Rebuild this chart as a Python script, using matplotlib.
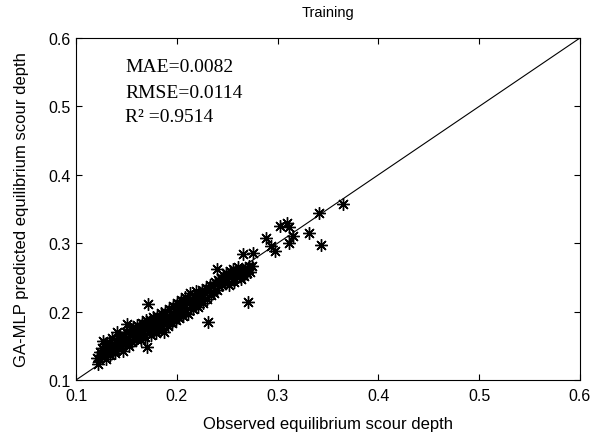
import matplotlib
matplotlib.use("Agg")
import matplotlib.pyplot as plt

observed = [
    0.121, 0.122, 0.124, 0.125, 0.126, 0.127, 0.128, 0.129, 0.130, 0.131,
    0.132, 0.133, 0.134, 0.135, 0.136, 0.137, 0.138, 0.139, 0.140, 0.141,
    0.142, 0.143, 0.144, 0.145, 0.146, 0.147, 0.148, 0.149, 0.150, 0.151,
    0.152, 0.153, 0.154, 0.155, 0.156, 0.157, 0.158, 0.159, 0.160,
    0.161, 0.162, 0.163, 0.164, 0.165, 0.166, 0.167, 0.168, 0.169, 0.170,
    0.171, 0.171, 0.172, 0.173, 0.174, 0.175, 0.176, 0.177, 0.178, 0.179,
    0.180, 0.181, 0.182, 0.183, 0.184, 0.185, 0.186, 0.187, 0.188, 0.189,
    0.190, 0.191, 0.192, 0.193, 0.194, 0.195, 0.196, 0.197, 0.198, 0.199,
    0.200, 0.201, 0.202, 0.203, 0.204, 0.205, 0.206, 0.207, 0.208, 0.209,
    0.210, 0.211, 0.212, 0.213, 0.214, 0.215, 0.216, 0.217, 0.218, 0.219,
    0.220, 0.221, 0.222, 0.224, 0.225, 0.226, 0.228, 0.229, 0.230, 0.231,
    0.232, 0.233, 0.234, 0.236, 0.237, 0.238, 0.240, 0.240, 0.241, 0.242,
    0.244, 0.245, 0.246, 0.248, 0.249, 0.250, 0.252, 0.253, 0.254, 0.256,
    0.257, 0.258, 0.260, 0.261, 0.263, 0.264, 0.266, 0.267, 0.268, 0.270,
    0.271, 0.272, 0.273, 0.275, 0.266, 0.276,
    0.288, 0.293, 0.297, 0.302, 0.309, 0.311, 0.315, 0.311, 0.331, 0.343,
    0.341, 0.365,
]
predicted = [
    0.132, 0.124, 0.141, 0.136, 0.147, 0.157, 0.139, 0.152, 0.131, 0.146,
    0.141, 0.155, 0.136, 0.148, 0.162, 0.143, 0.153, 0.139, 0.158, 0.170,
    0.147, 0.156, 0.164, 0.149, 0.160, 0.143, 0.165, 0.154, 0.170, 0.182,
    0.160, 0.150, 0.167, 0.174, 0.156, 0.177, 0.163, 0.171, 0.160,
    0.180, 0.167, 0.176, 0.158, 0.184, 0.169, 0.177, 0.163, 0.187, 0.148,
    0.211, 0.179, 0.171, 0.188, 0.166, 0.181, 0.192, 0.174, 0.185, 0.169,
    0.194, 0.182, 0.175, 0.189, 0.198, 0.179, 0.191, 0.170, 0.200, 0.184,
    0.193, 0.179, 0.204, 0.187, 0.197, 0.183, 0.208, 0.192, 0.201, 0.187,
    0.212, 0.197, 0.191, 0.206, 0.217, 0.199, 0.193, 0.211, 0.222, 0.203,
    0.213, 0.197, 0.217, 0.227, 0.207, 0.219, 0.204, 0.224, 0.211, 0.230,
    0.216, 0.207, 0.225, 0.217, 0.231, 0.213, 0.227, 0.235, 0.219, 0.185,
    0.231, 0.239, 0.224, 0.237, 0.227, 0.243, 0.262, 0.231, 0.246, 0.237,
    0.249, 0.239, 0.253, 0.243, 0.257, 0.248, 0.239, 0.259, 0.250, 0.263,
    0.244, 0.255, 0.250, 0.265, 0.256, 0.247, 0.261, 0.252, 0.263, 0.256,
    0.214, 0.267, 0.258, 0.266, 0.284, 0.286,
    0.308, 0.296, 0.289, 0.325, 0.330, 0.324, 0.311, 0.300, 0.315, 0.297,
    0.344, 0.357,
]
line_ends = [0.1, 0.6]
ticks = [0.1, 0.2, 0.3, 0.4, 0.5, 0.6]
tick_labels = ["0.1", "0.2", "0.3", "0.4", "0.5", "0.6"]
stats_lines = ["MAE=0.0082", "RMSE=0.0114", "R\u00b2 =0.9514"]

plt.rcParams['font.family'] = ['Liberation Sans', 'DejaVu Sans']
fig = plt.figure(figsize=(5.92, 4.39), dpi=100)
ax = fig.add_axes([0.1284, 0.1321, 0.8513, 0.7791])

ax.plot(line_ends, line_ends, color='black', linewidth=0.8)
ax.plot(observed, predicted, linestyle='none', marker=(8, 2, 0),
        markersize=9, markeredgewidth=1.0, color='black')

ax.set_xlim(0.1, 0.6)
ax.set_ylim(0.1, 0.6)
ax.set_xticks(ticks)
ax.set_xticklabels(tick_labels)
ax.set_yticks(ticks)
ax.set_yticklabels(tick_labels)
ax.tick_params(direction='in', top=True, right=True, labelsize=11.5,
               length=4, width=0.8)
ax.tick_params(axis='x', pad=6)
ax.tick_params(axis='y', pad=4)
for s in ax.spines.values():
    s.set_linewidth(0.8)

ax.set_title("Training", fontsize=10.5, pad=16)
ax.set_xlabel("Observed equilibrium scour depth", fontsize=12, labelpad=9)
ax.set_ylabel("GA-MLP predicted equilibrium scour depth", fontsize=12, labelpad=14)

ys = [0.5576, 0.521, 0.4845]
for txt, yv in zip(stats_lines, ys):
    ax.text(0.1486, yv, txt, family='Liberation Serif', fontsize=14,
            va='center', ha='left')

fig.savefig("out.png", dpi=100)
